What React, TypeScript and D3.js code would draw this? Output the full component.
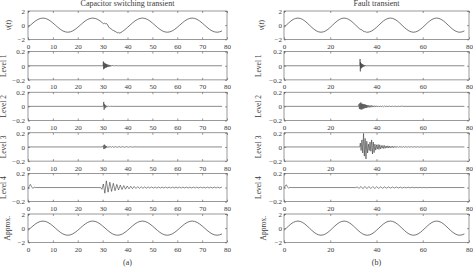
import { useEffect, useRef } from "react";
import * as d3 from "d3";

type Pt = [number, number];

// sample instants (ms) for the fundamental wave
const sampleTimes = d3.range(0, 79);

// fundamental 50 Hz component, one value per ms
const fundamental = [
  -0.31, 0, 0.31, 0.59, 0.81, 0.95, 1, 0.95, 0.81, 0.59,
  0.31, 0, -0.31, -0.59, -0.81, -0.95, -1, -0.95, -0.81, -0.59,
  -0.31, 0, 0.31, 0.59, 0.81, 0.95, 1, 0.95, 0.81, 0.59,
  0.31, 0, -0.31, -0.59, -0.81, -0.95, -1, -0.95, -0.81, -0.59,
  -0.31, 0, 0.31, 0.59, 0.81, 0.95, 1, 0.95, 0.81, 0.59,
  0.31, 0, -0.31, -0.59, -0.81, -0.95, -1, -0.95, -0.81, -0.59,
  -0.31, 0, 0.31, 0.59, 0.81, 0.95, 1, 0.95, 0.81, 0.59,
  0.31, 0, -0.31, -0.59, -0.81, -0.95, -1, -0.95, -0.81,
];

// v(t) around the capacitor energisation
const capSwitchDip: Pt[] = [
  [30, 0.31], [30.5, 0.2], [30.8, 0.28], [31.2, 0.2], [31.6, 0.22], [32, 0.02],
  [32.5, -0.28], [33, -0.45], [33.5, -0.55], [34, -0.7], [34.5, -0.78],
  [35, -0.88], [35.5, -0.98], [36, -1.08], [36.3, -1.02], [36.6, -1.15],
  [37, -1.05], [37.3, -1.1], [37.6, -0.95], [38, -0.88], [39, -0.62], [40, -0.31],
];

// v(t) around the fault inception
const faultDip: Pt[] = [
  [33, -0.59], [33.4, -0.62], [33.7, -0.7], [34, -0.76], [34.3, -0.86],
  [34.6, -0.84], [34.9, -0.95], [35.2, -0.93], [35.6, -1.0], [36, -1.0],
];

// detail coefficients, capacitor switching
const capLevel1: Pt[] = [
  [30.2, 0], [30.3, 0.06], [30.4, -0.05], [30.55, 0.045], [30.7, -0.04], [30.85, 0.035],
  [31.0, -0.032], [31.15, 0.03], [31.3, -0.027], [31.45, 0.025], [31.6, -0.022],
  [31.75, 0.02], [31.9, -0.018], [32.1, 0.016], [32.3, -0.014], [32.5, 0.012],
  [32.7, -0.011], [32.9, 0.01], [33.1, -0.009], [33.3, 0.008], [33.6, -0.007],
  [33.9, 0.006], [34.2, -0.005], [34.5, 0.004], [34.9, -0.003], [35.3, 0.002],
  [35.8, -0.001], [36.3, 0],
];
const capLevel2: Pt[] = [
  [30.3, 0], [30.45, 0.062], [30.6, -0.048], [30.8, 0.03], [31.0, -0.025], [31.2, 0.015],
  [31.4, -0.012], [31.7, 0.008], [32.0, -0.006], [32.4, 0.004], [32.8, -0.003],
  [33.3, 0.002], [34, 0],
];
const capLevel3: Pt[] = [
  [30, 0], [30.3, 0.02], [30.5, -0.03], [30.7, 0.033], [30.9, -0.025], [31.1, 0.02],
  [31.3, -0.015], [31.5, 0.012], [31.8, -0.008], [32.1, 0.006], [32.5, -0.005],
  [33, 0.006], [33.5, -0.005], [34, 0.006], [34.5, -0.005], [35.2, 0.005],
  [35.9, -0.005], [36.6, 0.005], [37.3, -0.004], [38, 0.004], [38.8, -0.004],
  [39.6, 0.004], [40.4, -0.003], [41.2, 0.003], [42, -0.003], [43, 0.002], [44, 0],
];
const capLevel4: Pt[] = [
  [0, -0.02], [0.45, 0.015], [0.95, 0.045], [1.45, 0.012], [1.95, -0.012], [2.5, 0.006], [3.1, 0],
  [29.2, 0], [29.7, -0.025], [30.3, 0.05], [30.9, -0.08], [31.5, 0.095], [32.2, -0.065],
  [32.9, 0.075], [33.6, -0.055], [34.3, 0.06], [35.0, -0.045], [35.7, 0.045], [36.4, -0.035],
  [37.1, 0.035], [37.8, -0.028], [38.5, 0.028], [39.2, -0.023], [39.9, 0.022], [40.6, -0.018],
  [41.3, 0.018], [42.0, -0.015], [42.7, 0.015], [43.4, -0.013], [44.1, 0.012], [44.8, -0.011],
  [45.5, 0.01], [46.2, -0.01], [46.9, 0.009], [47.6, -0.009], [48.3, 0.008], [49.0, -0.008],
  [49.7, 0.008], [50.4, -0.007], [51.1, 0.007], [51.8, -0.007], [52.5, 0.007], [53.2, -0.007],
  [53.9, 0.006], [54.6, -0.006], [55.3, 0.006], [56.0, -0.006], [56.7, 0.006], [57.4, -0.006],
  [58.1, 0.006], [58.8, -0.006], [59.5, 0.006], [60.2, -0.006], [60.9, 0.006], [61.6, -0.006],
  [62.3, 0.006], [63.0, -0.006], [63.7, 0.006], [64.4, -0.006], [65.1, 0.006], [65.8, -0.006],
  [66.5, 0.006], [67.2, -0.006], [67.9, 0.006], [68.6, -0.006], [69.3, 0.006], [70.0, -0.006],
  [70.7, 0.006], [71.4, -0.006], [72.1, 0.006], [72.8, -0.006], [73.5, 0.006], [74.2, -0.006],
  [74.9, 0.006], [75.6, -0.006], [76.3, 0.006], [77.0, -0.006], [77.7, 0.005], [78, 0],
];

// detail coefficients, fault
const faultLevel1: Pt[] = [
  [32.6, 0], [32.8, 0.02], [32.9, 0.095], [33.0, -0.08], [33.1, 0.05], [33.25, -0.04],
  [33.4, 0.035], [33.55, -0.03], [33.7, 0.025], [33.85, -0.022], [34.0, 0.02],
  [34.2, -0.016], [34.4, 0.013], [34.6, -0.011], [34.8, 0.009], [35.0, -0.007],
  [35.3, 0.006], [35.6, -0.005], [35.9, 0.004], [36.3, -0.003], [36.8, 0.002], [37.3, 0],
];
const faultLevel2: Pt[] = [
  [32.2, 0], [32.4, 0.03], [32.6, -0.035], [32.8, 0.045], [33.0, -0.04], [33.2, 0.055],
  [33.4, -0.045], [33.6, 0.04], [33.8, -0.042], [34.0, 0.035], [34.2, -0.035], [34.4, 0.03],
  [34.6, -0.03], [34.8, 0.028], [35.0, -0.025], [35.2, 0.025], [35.4, -0.022], [35.6, 0.02],
  [35.8, -0.02], [36.0, 0.018], [36.3, -0.016], [36.6, 0.015], [36.9, -0.014], [37.2, 0.013],
  [37.5, -0.012], [37.8, 0.012], [38.1, -0.011], [38.4, 0.01], [38.8, -0.01], [39.2, 0.009],
  [39.6, -0.009], [40.0, 0.008], [40.4, -0.008], [40.8, 0.007], [41.2, -0.007], [41.6, 0.006],
  [42.0, -0.006], [42.5, 0.006], [43.0, -0.006], [43.5, 0.005], [44, -0.005], [44.5, 0.005],
  [45, -0.005], [45.6, 0.005], [46.2, -0.004], [46.8, 0.004], [47.4, -0.004], [48, 0.004],
  [48.7, -0.004], [49.4, 0.003], [50.1, -0.003], [50.8, 0.003], [51.5, 0],
];
const faultLevel3: Pt[] = [
  [32.8, 0], [33.0, 0.055], [33.35, -0.05], [33.7, 0.1], [34.05, -0.085], [34.4, 0.19],
  [34.75, -0.13], [35.1, 0.12], [35.45, -0.17], [35.8, 0.08], [36.15, -0.085], [36.5, 0.04],
  [36.85, -0.05], [37.2, 0.07], [37.55, -0.06], [37.9, 0.1], [38.25, -0.1], [38.6, 0.07],
  [38.95, -0.08], [39.3, 0.04], [39.65, -0.045], [40.0, 0.03], [40.35, -0.03], [40.7, 0.035],
  [41.05, -0.035], [41.4, 0.03], [41.75, -0.028], [42.1, 0.02], [42.45, -0.018], [42.8, 0.022],
  [43.15, -0.022], [43.5, 0.02], [43.85, -0.018], [44.2, 0.014], [44.55, -0.014], [44.9, 0.016],
  [45.25, -0.015], [45.6, 0.012], [45.95, -0.012], [46.3, 0.01], [46.65, -0.01], [47.0, 0.011],
  [47.35, -0.01], [47.7, 0.008], [48.05, -0.008], [48.4, 0.008], [48.75, -0.007], [49.1, 0.006],
  [49.45, -0.006], [49.8, 0.006], [50.15, -0.005], [50.6, 0.005], [51.1, -0.005], [51.6, 0.005],
  [52.1, -0.004], [52.7, 0.004], [53.3, -0.004], [53.9, 0.004], [54.5, -0.004], [55.1, 0.004],
  [55.7, -0.003], [56.4, 0.003], [57.1, -0.003], [57.8, 0.003], [58.5, -0.003], [59.2, 0.003],
  [60, -0.002], [61, 0],
];
const faultLevel4: Pt[] = [
  [0, -0.01], [0.5, 0.02], [1.0, 0.04], [1.5, 0.01], [2.0, -0.01], [2.5, 0.005], [3, 0],
  [31.0, 0], [31.6, 0.008], [32.45, -0.012], [33.3, 0.015], [34.15, -0.016], [35.0, 0.016],
  [35.85, -0.015], [36.7, 0.015], [37.55, -0.014], [38.4, 0.014], [39.25, -0.013], [40.1, 0.012],
  [40.95, -0.012], [41.8, 0.011], [42.65, -0.01], [43.5, 0.01], [44.35, -0.009], [45.2, 0.009],
  [46.05, -0.008], [46.9, 0.008], [47.75, -0.007], [48.6, 0.007], [49.45, -0.006], [50.3, 0.006],
  [51.15, -0.006], [52, 0.005], [52.85, -0.005], [53.7, 0.005], [54.55, -0.004], [55.4, 0.004],
  [56.25, -0.004], [57.1, 0.003], [57.95, -0.003], [58.8, 0.003], [59.65, -0.003], [60.5, 0.002],
  [61.35, -0.002], [62.2, 0],
];

const waveTicks = [-2, 0, 2];
const levelTicks = [-0.2, 0, 0.2];
const leftTimeTicks = [0, 10, 20, 30, 40, 50, 60, 70, 80];
const rightTimeTicks = [0, 20, 40, 60, 80];
const levelNames = ["Level 1", "Level 2", "Level 3", "Level 4"];

const basePoints: Pt[] = sampleTimes.map((t, i) => [t, fundamental[i]]);

function withPatch(patch: Pt[]): Pt[] {
  const t0 = patch[0][0];
  const t1 = patch[patch.length - 1][0];
  return basePoints
    .filter(d => d[0] < t0 || d[0] > t1)
    .concat(patch)
    .sort((a, b) => a[0] - b[0]);
}

function onZeroLine(burst: Pt[]): Pt[] {
  const pts: Pt[] = burst[0][0] > 0 ? [[0, 0], ...burst] : [...burst];
  return [...pts, [78, 0]];
}

interface Panel {
  label: string;
  wave: boolean;
  points: Pt[];
}

interface Column {
  title: string;
  caption: string;
  x0: number;
  x1: number;
  xTicks: number[];
  yPad: number;
  labelX: { wave: number; level: number; approx: number };
  panels: Panel[];
}

const columns: Column[] = [
  {
    title: "Capacitor switching transient",
    caption: "(a)",
    x0: 28,
    x1: 227,
    xTicks: leftTimeTicks,
    yPad: 3,
    labelX: { wave: 8.5, level: 3.5, approx: 7.5 },
    panels: [
      { label: "v(t)", wave: true, points: withPatch(capSwitchDip) },
      ...[capLevel1, capLevel2, capLevel3, capLevel4].map((p, i) => ({
        label: levelNames[i], wave: false, points: onZeroLine(p),
      })),
      { label: "Approx.", wave: true, points: basePoints },
    ],
  },
  {
    title: "Fault transient",
    caption: "(b)",
    x0: 284,
    x1: 469,
    xTicks: rightTimeTicks,
    yPad: 2,
    labelX: { wave: 261, level: 258, approx: 263.5 },
    panels: [
      { label: "v(t)", wave: true, points: withPatch(faultDip) },
      ...[faultLevel1, faultLevel2, faultLevel3, faultLevel4].map((p, i) => ({
        label: levelNames[i], wave: false, points: onZeroLine(p),
      })),
      { label: "Approx.", wave: true, points: basePoints },
    ],
  },
];

const width = 473;
const height = 268;
const panelTop = 11;
const panelStep = 40.6;
const panelH = 28.3;
const serif = "'Liberation Serif', 'DejaVu Serif', serif";
const ink = "#3a3a3a";

export default function App() {
  const ref = useRef<SVGSVGElement | null>(null);

  useEffect(() => {
    if (!ref.current) return;
    const svg = d3.select(ref.current);
    svg.selectAll("*").remove();

    svg.append("rect").attr("width", width).attr("height", height).attr("fill", "#fff");

    const fmt = d3.format("");

    columns.forEach(col => {
      const x = d3.scaleLinear().domain([0, 80]).range([col.x0, col.x1]);
      const cx = (col.x0 + col.x1) / 2;

      svg.append("text")
        .attr("x", cx)
        .attr("y", 6)
        .attr("text-anchor", "middle")
        .attr("font-family", serif)
        .attr("font-size", 8)
        .attr("fill", ink)
        .text(col.title);

      col.panels.forEach((p, i) => {
        const top = panelTop + i * panelStep;
        const bottom = top + panelH;
        const y = d3.scaleLinear()
          .domain(p.wave ? [-2, 2] : [-0.2, 0.2])
          .range([bottom, top]);
        const g = svg.append("g");

        // signal trace
        const line = d3.line<Pt>()
          .x(d => x(d[0]))
          .y(d => y(d[1]))
          .curve(p.wave ? d3.curveMonotoneX : d3.curveLinear);
        g.append("path")
          .datum(p.points)
          .attr("d", line)
          .attr("fill", "none")
          .attr("stroke", "#3a3a3a")
          .attr("stroke-width", p.wave ? 0.7 : 0.6);

        // box
        g.append("rect")
          .attr("x", col.x0)
          .attr("y", top)
          .attr("width", col.x1 - col.x0)
          .attr("height", panelH)
          .attr("fill", "none")
          .attr("stroke", "#555")
          .attr("stroke-width", 0.6);

        const yTicks = p.wave ? waveTicks : levelTicks;
        const styleAxis = (a: d3.Selection<SVGGElement, unknown, null, undefined>) => {
          a.select(".domain").remove();
          a.attr("font-family", serif).attr("font-size", 7).style("color", ink);
          a.selectAll("line").attr("stroke", "#555").attr("stroke-width", 0.6);
        };

        g.append("g")
          .attr("transform", `translate(0,${bottom})`)
          .call(d3.axisBottom(x).tickValues(col.xTicks).tickSize(-2).tickSizeOuter(0)
            .tickPadding(4.5).tickFormat(d => fmt(d as number)))
          .call(styleAxis);
        g.append("g")
          .attr("transform", `translate(0,${top})`)
          .call(d3.axisTop(x).tickValues(col.xTicks).tickSize(-2).tickSizeOuter(0).tickFormat(() => ""))
          .call(styleAxis);
        g.append("g")
          .attr("transform", `translate(${col.x0},0)`)
          .call(d3.axisLeft(y).tickValues(yTicks).tickSize(-2).tickSizeOuter(0)
            .tickPadding(col.yPad).tickFormat(d => fmt(d as number)))
          .call(styleAxis);
        g.append("g")
          .attr("transform", `translate(${col.x1},0)`)
          .call(d3.axisRight(y).tickValues(yTicks).tickSize(-2).tickSizeOuter(0).tickFormat(() => ""))
          .call(styleAxis);

        // y label
        const lx = i === 0 ? col.labelX.wave : p.wave ? col.labelX.approx : col.labelX.level;
        const label = g.append("text")
          .attr("transform", `translate(${lx},${(top + bottom) / 2}) rotate(-90)`)
          .attr("dy", "0.35em")
          .attr("text-anchor", "middle")
          .attr("font-family", serif)
          .attr("font-size", 7.5)
          .attr("fill", ink);
        if (p.label === "v(t)") {
          label.append("tspan").attr("font-style", "italic").text("v");
          label.append("tspan").text("(");
          label.append("tspan").attr("font-style", "italic").text("t");
          label.append("tspan").text(")");
        } else {
          label.text(p.label);
        }
      });

      svg.append("text")
        .attr("x", cx)
        .attr("y", 264.5)
        .attr("text-anchor", "middle")
        .attr("font-family", serif)
        .attr("font-size", 8)
        .attr("fill", ink)
        .text(col.caption);
    });
  }, []);

  return (
    <svg
      ref={ref}
      width={width}
      height={height}
      style={{ position: "absolute", left: 0, top: 0, display: "block" }}
    />
  );
}
